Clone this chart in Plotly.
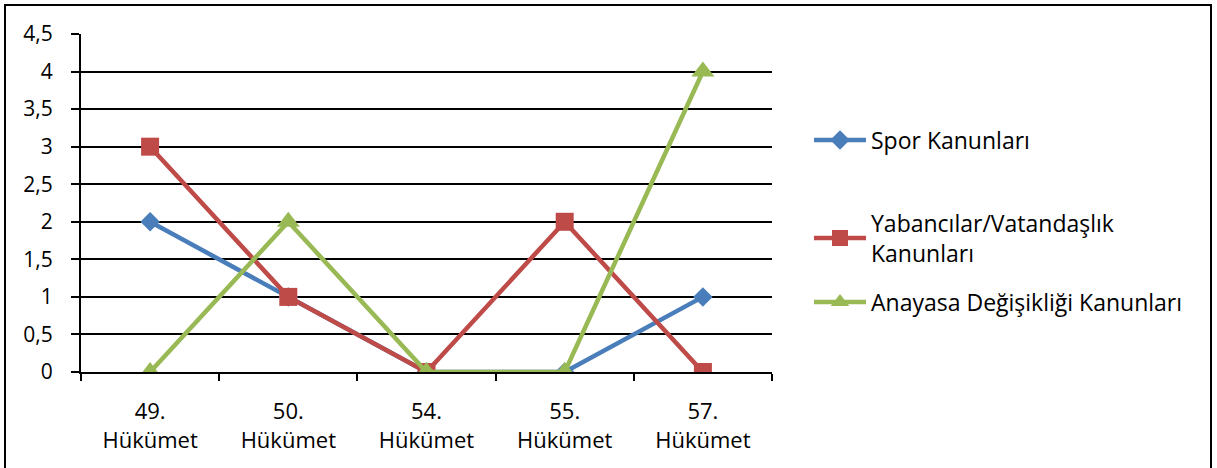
import plotly.graph_objects as go

categories = ["49.<br>Hükümet", "50.<br>Hükümet", "54.<br>Hükümet", "55.<br>Hükümet", "57.<br>Hükümet"]
spor = [2, 1, 0, 0, 1]
yabanci = [3, 1, 0, 2, 0]
anayasa = [0, 2, 0, 0, 4]

W, H = 1217, 468
L, R, T, B = 81, 772, 34, 372
FONT = "Open Sans"
FS = 22

fig = go.Figure()
fig.add_trace(go.Scatter(x=categories, y=spor, name="Spor Kanunları", mode="lines+markers",
                         line=dict(color="#4A7EBB", width=4.5),
                         marker=dict(symbol="diamond", size=15, color="#4A7EBB"), legend="legend"))
fig.add_trace(go.Scatter(x=categories, y=yabanci, name="Yabancılar/Vatandaşlık<br>Kanunları", mode="lines+markers",
                         line=dict(color="#BE4B48", width=4.5),
                         marker=dict(symbol="square", size=18, color="#BE4B48"), legend="legend2"))
fig.add_trace(go.Scatter(x=categories, y=anayasa, name="Anayasa Değişikliği Kanunları", mode="lines+markers",
                         line=dict(color="#98B954", width=4.5),
                         marker=dict(symbol="triangle-up", size=20, color="#98B954"), legend="legend3"))

def px2x(p):
    return (p - L) / (R - L)

def px2y(p):
    return (B - p) / (B - T)

leg_common = dict(xanchor="left", yanchor="middle", font=dict(family=FONT, size=23, color="black"),
                  bgcolor="rgba(0,0,0,0)", itemwidth=52)
fig.update_layout(
    width=W, height=H,
    showlegend=True,
    margin=dict(l=L, r=W - R, t=T, b=H - B),
    paper_bgcolor="white", plot_bgcolor="white",
    separators=",.",
    font=dict(family=FONT, size=FS, color="black"),
    legend=dict(x=px2x(809), y=px2y(140), **leg_common),
    legend2=dict(x=px2x(809), y=px2y(238), **leg_common),
    legend3=dict(x=px2x(809), y=px2y(302), **leg_common),
    xaxis=dict(type="category", range=[-0.5, 4.5], showgrid=False, showline=True, linecolor="black",
               linewidth=2, ticks="outside", tickson="boundaries", ticklen=7, tickwidth=2, tickcolor="black",
               ticklabelstandoff=19,
               tickfont=dict(family=FONT, size=FS, color="black")),
    yaxis=dict(range=[0, 4.5], dtick=0.5, tickformat=",.1~f", showgrid=True, gridcolor="black", gridwidth=2,
               showline=True, linecolor="black", linewidth=2, ticks="outside", ticklen=8, tickwidth=2,
               tickcolor="black", zeroline=False, ticklabelstandoff=14,
               tickfont=dict(family=FONT, size=21, color="black")),
)

fig.add_shape(type="rect", xref="paper", yref="paper",
              x0=px2x(5), x1=px2x(1211), y0=px2y(5), y1=px2y(475),
              line=dict(color="black", width=2), fillcolor="rgba(0,0,0,0)", layer="below")

fig.write_html("out.html")
